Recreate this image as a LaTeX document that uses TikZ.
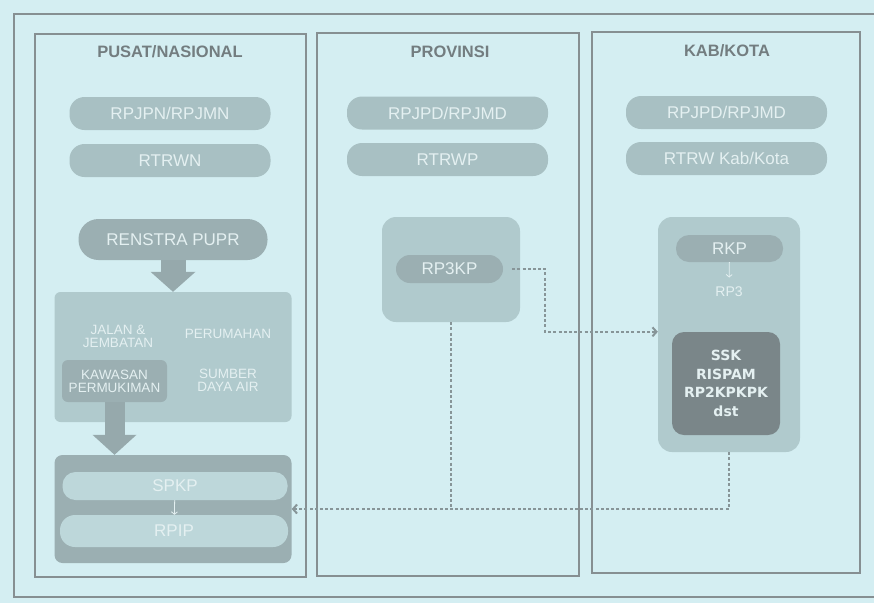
\documentclass[tikz,border=0pt]{standalone}
\usepackage{fontspec}
\setmainfont{Liberation Sans}
\newfontfamily\sskfont{DejaVu Sans}
\usetikzlibrary{arrows.meta}

\definecolor{bg}{HTML}{D4EEF2}
\definecolor{frame}{HTML}{868F92}
\definecolor{headc}{HTML}{737D80}
\definecolor{pillc}{HTML}{A8C0C3}
\definecolor{pilltxt}{HTML}{E4F0F1}
\definecolor{darkpill}{HTML}{9BAFB2}
\definecolor{panelc}{HTML}{B0CACD}
\definecolor{lightpill}{HTML}{BDD7DA}
\definecolor{arrowc}{HTML}{96A9AC}
\definecolor{sskc}{HTML}{7A8689}
\definecolor{linkc}{HTML}{879598}

\begin{document}
\begin{tikzpicture}[x=1pt, y=-1pt,
  col/.style={draw=frame, line width=1.7pt, minimum width=#1},
  head/.style={text=headc, font=\bfseries\fontsize{16.5}{19}\selectfont},
  pill/.style={fill=pillc, text=pilltxt, rounded corners=15pt,
    minimum width=201pt, minimum height=33pt, inner sep=0pt,
    font=\fontsize{17}{20}\selectfont},
  panel/.style={fill=panelc, rounded corners=12pt},
  qtext/.style={text=pilltxt, align=center, font=\fontsize{13.5}{13}\selectfont},
  blk/.style={draw=arrowc, line width=#1, line cap=butt},
  link/.style={draw=linkc, line width=2pt, dash pattern=on 3pt off 2.2pt},
  tiny/.style={draw=pilltxt, line width=0.8pt, -{Straight Barb[length=2.5pt,width=6pt]}}]

  \useasboundingbox[fill=bg] (0, 0) rectangle (874, 603);
  \draw[frame, line width=1.5pt] (14, 14) rectangle (890, 597);

  % columns
  \node[col=271pt, minimum height=543pt] (c1) at (170.5, 305.5) {};
  \node[col=262pt, minimum height=543pt] (c2) at (448, 304.5) {};
  \node[col=268pt, minimum height=541pt] (c3) at (726, 302.5) {};
  \node[head] (h1) at (170, 52) {PUSAT/NASIONAL};
  \node[head] (h2) at (450, 52) {PROVINSI};
  \node[head] (h3) at (727, 51) {KAB/KOTA};

  % pusat
  \node[pill] (rpjpn) at (170, 113.5) {RPJPN/RPJMN};
  \node[pill] (rtrwn) at (170, 160.5) {RTRWN};
  \node[pill, fill=darkpill, minimum width=189pt, minimum height=41pt, rounded corners=20pt] (ren) at (173, 239.5) {RENSTRA PUPR};
  \node[panel, rounded corners=6pt, minimum width=237pt, minimum height=130pt] (quad) at (173, 357) {};
  \draw[blk=25pt, -{Triangle[length=20pt, width=45pt, line width=0pt]}] (ren.south) -- (quad.north);
  \node[qtext] (jal) at (118, 336) {JALAN \&\\JEMBATAN};
  \node[qtext] (peru) at (228, 334) {PERUMAHAN};
  \node[qtext, fill=darkpill, rounded corners=6pt, minimum width=105pt, minimum height=42pt] (kaw) at (114.5, 381) {KAWASAN\\PERMUKIMAN};
  \node[qtext] (sda) at (228, 380) {SUMBER\\DAYA AIR};
  \node[fill=darkpill, rounded corners=8pt, minimum width=237pt, minimum height=108pt] (bbox) at (173, 509) {};
  \draw[blk=20pt, -{Triangle[length=20pt, width=44pt, line width=0pt]}] (kaw.south) -- (kaw.south |- bbox.north);
  \node[pill, fill=lightpill, minimum width=225pt, minimum height=28pt, rounded corners=13pt] (spkp) at (175, 486) {SPKP};
  \node[pill, fill=lightpill, minimum width=228pt, minimum height=32pt, rounded corners=15pt] (rpip) at (174, 531) {RPIP};
  \draw[tiny] (spkp) -- (rpip);

  % provinsi
  \node[pill] (rpjpd) at (447.5, 113) {RPJPD/RPJMD};
  \node[pill] (rtrwp) at (447.5, 159.5) {RTRWP};
  \node[panel, rounded corners=14pt, minimum width=138pt, minimum height=105pt] (pbox) at (451, 269.5) {};
  \node[pill, fill=darkpill, minimum width=107pt, minimum height=28pt, rounded corners=14pt] (rp3kp) at (449.5, 269) {RP3KP};

  % kab/kota
  \node[pill] (kpj) at (726.5, 112.5) {RPJPD/RPJMD};
  \node[pill] (krt) at (726.5, 158.5) {RTRW Kab/Kota};
  \node[panel, rounded corners=14pt, minimum width=142pt, minimum height=235pt] (kbox) at (729, 334.5) {};
  \node[pill, fill=darkpill, minimum width=107pt, minimum height=27pt, rounded corners=13pt] (rkp) at (729.5, 248.5) {RKP};
  \node[text=pilltxt, font=\fontsize{14}{16}\selectfont] (rp3) at (729, 292) {RP3};
  \draw[tiny, shorten >=6pt] (rkp) -- (rp3);
  \node[fill=sskc, rounded corners=12pt, minimum width=108pt, minimum height=103pt, text=pilltxt, align=center,
    font=\sskfont\bfseries\fontsize{14}{18.5}\selectfont] (ssk) at (726, 383.5) {SSK\\RISPAM\\RP2KPKPK\\dst};

  % links
  \draw[link, shorten <=9pt, -{Straight Barb[length=4pt, width=9pt]}] (rp3kp.east) -- ++(42, 0) |- (kbox.west |- ssk.north);
  \draw[link, -{Straight Barb[length=4pt, width=9pt]}] (kbox.south) |- (bbox.east);
  \draw[link] (pbox.south) -- (pbox.south |- bbox.east);

\end{tikzpicture}
\end{document}
